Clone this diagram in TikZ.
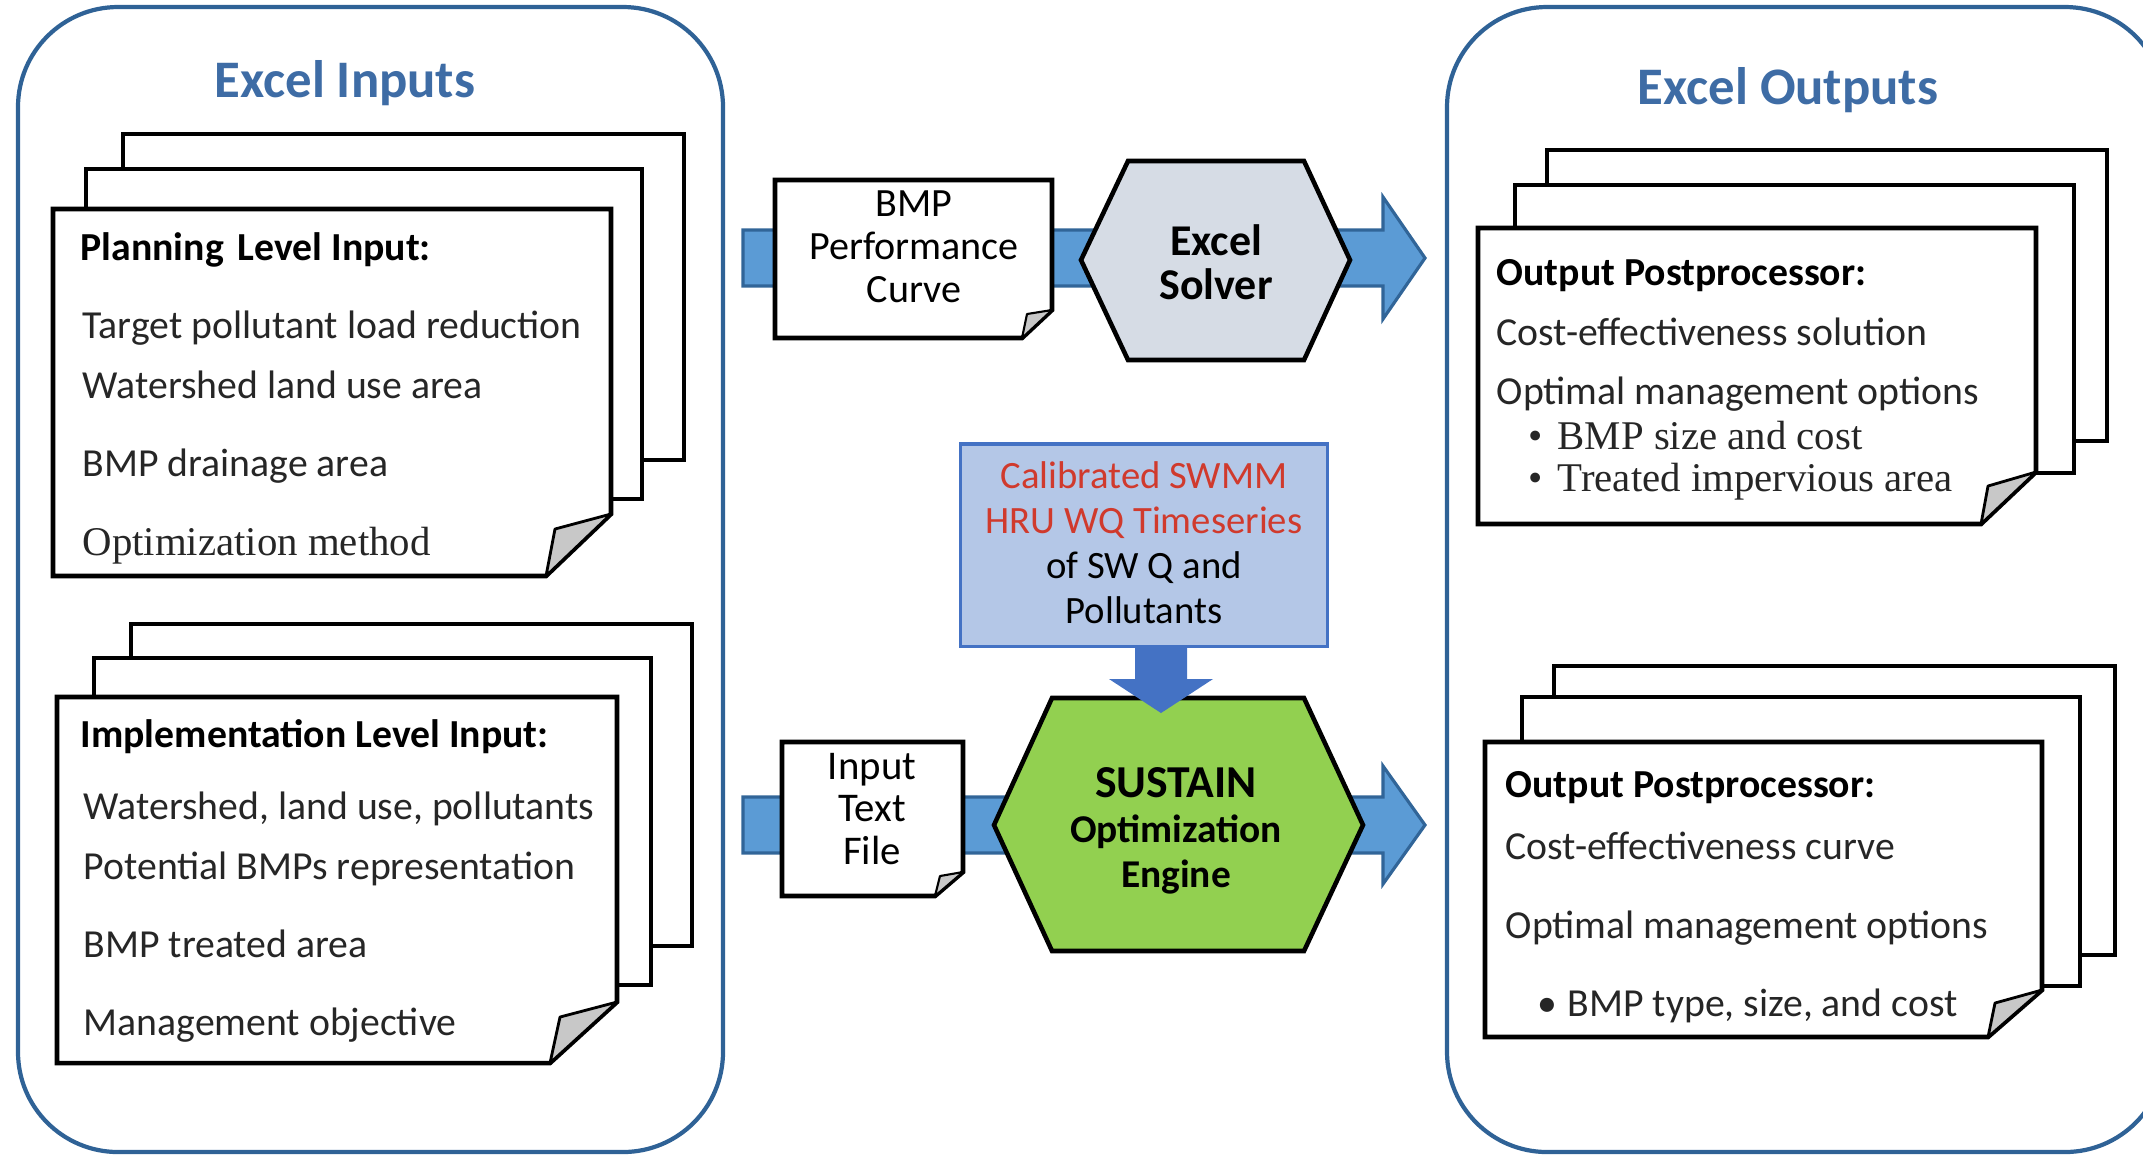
\documentclass[tikz,border=0pt]{standalone}
\usepackage{fontspec}
\setmainfont{Carlito}
\newfontfamily\timesfont{Liberation Serif}

\definecolor{frameblue}{RGB}{47,98,150}
\definecolor{titleblue}{RGB}{62,108,165}
\definecolor{bandblue}{RGB}{91,155,213}
\definecolor{bandline}{RGB}{49,101,152}
\definecolor{feedblue}{RGB}{68,114,196}
\definecolor{calibfill}{RGB}{180,199,231}
\definecolor{solverfill}{RGB}{214,220,229}
\definecolor{sustainfill}{RGB}{146,208,80}
\definecolor{calibred}{RGB}{208,58,45}
\definecolor{foldgray}{RGB}{200,200,200}

\begin{document}
\begin{tikzpicture}[x=0.01cm,y=-0.01cm,
    frame/.style={draw=frameblue,line width=1.2pt,rounded corners=1cm},
    sheet/.style={draw=black,line width=1.3pt,fill=white},
    fold/.style={draw=black,line width=0.8pt,fill=foldgray,line join=round},
    band/.style={draw=bandline,line width=0.9pt,fill=bandblue},
    hexa/.style={draw=black,line width=1.3pt},
    title/.style={text=titleblue,font=\fontsize{15}{18}\selectfont\bfseries},
    txt/.style={anchor=west,inner sep=0pt,text height=1.6ex,text depth=0.45ex,
        text=black!85,font=\fontsize{11.3}{13}\selectfont},
    head/.style={txt,text=black,font=\fontsize{11.3}{13}\selectfont\bfseries},
    serif/.style={txt,font=\fontsize{11.6}{14}\selectfont\timesfont},
    label/.style={align=center,inner sep=0pt,font=\fontsize{11.4}{12.3}\selectfont}]

    \useasboundingbox (0,0) rectangle (2143,1156);
    \clip (0,0) rectangle (2143,1156);

    % containers
    \draw[frame] (18,7) rectangle (723,1152);
    \draw[frame] (1447,7) rectangle (2165,1152);
    \node[title] (intitle) at (345,83) {Excel Inputs};
    \node[title] (outtitle) at (1788,90) {Excel Outputs};

    % planning level sheets
    \draw[sheet] (123,134) rectangle (684,460);
    \draw[sheet] (86,169) rectangle (642,499);
    \draw[sheet] (53,209) -- (611,209) -- (611,514) -- (546,576) -- (53,576) -- cycle;
    \draw[fold] (611,514) -- (555,529) -- (546,576) -- cycle;
    \node[head] (planhead) at (80,251) {Planning\hspace{0.35em}Level Input:};
    \node[txt] (plana) at (82,329) {Target pollutant load reduction};
    \node[txt] (planb) at (82,389) {Watershed land use area};
    \node[txt] (planc) at (82,467) {BMP drainage area};
    \node[serif] (pland) at (82,546) {Optimization method};

    % implementation level sheets
    \draw[sheet] (131,624) rectangle (692,946);
    \draw[sheet] (94,658) rectangle (651,985);
    \draw[sheet] (57,697) -- (617,697) -- (617,1002) -- (550,1063) -- (57,1063) -- cycle;
    \draw[fold] (617,1002) -- (560,1017) -- (550,1063) -- cycle;
    \node[head] (implhead) at (80,738) {Implementation Level Input:};
    \node[txt] (impla) at (83,810) {Watershed, land use, pollutants};
    \node[txt] (implb) at (83,870) {Potential BMPs representation};
    \node[txt] (implc) at (83,948) {BMP treated area};
    \node[txt] (impld) at (83,1026) {Management objective};

    % blue bands
    \coordinate (bandtop) at (743,258);
    \coordinate (bandlow) at (743,825);
    \draw[band] (bandtop) ++(0,-28) -- ++(640,0) -- ++(0,-33) -- (1425,258)
        -- (1383,319) -- ++(0,-33) -- (743,286) -- cycle;
    \draw[band] (bandlow) ++(0,-28) -- ++(640,0) -- ++(0,-31) -- (1425,825)
        -- (1383,884) -- ++(0,-31) -- (743,853) -- cycle;

    % bmp performance curve
    \draw[sheet] (775,180) -- (1052,180) -- (1052,310) -- (1022,338) -- (775,338) -- cycle;
    \draw[fold,line width=0.6pt] (1052,310) -- (1027,314) -- (1022,338) -- cycle;
    \node[label] (bmpcurve) at (914,247) {BMP\\Performance\\Curve};

    % excel solver
    \draw[hexa,fill=solverfill] (1128,161) -- (1304,161) -- (1350,260) -- (1304,360)
        -- (1128,360) -- (1081,260) -- cycle;
    \node[label,font=\fontsize{12.5}{12.6}\selectfont\bfseries] (solver) at (1216,262) {Excel\\Solver};

    % calibrated timeseries
    \node[draw=feedblue,line width=0.9pt,fill=calibfill,minimum width=3.66cm,
        minimum height=2.02cm] (calibbox) at (1144,545) {};
    \node[label,font=\fontsize{11}{12.8}\selectfont] (calib) at (1144,543)
        {\textcolor{calibred}{Calibrated SWMM}\\\textcolor{calibred}{HRU WQ Timeseries}\\of SW Q and\\Pollutants};

    % input text file
    \draw[sheet] (782,742) -- (963,742) -- (963,872) -- (935,896) -- (782,896) -- cycle;
    \draw[fold,line width=0.6pt] (963,872) -- (940,876) -- (935,896) -- cycle;
    \node[label,font=\fontsize{11.6}{12.2}\selectfont] (inputfile) at (872,809) {Input\\Text\\File};

    % sustain engine
    \draw[hexa,fill=sustainfill] (1052,698) -- (1304,698) -- (1363,825) -- (1304,951)
        -- (1052,951) -- (994,825) -- cycle;
    \node[label,font=\fontsize{11.2}{12.8}\selectfont\bfseries] (sustain) at (1176,831)
        {{\fontsize{13}{13}\selectfont SUSTAIN}\\Optimization\\Engine};

    % feed arrow
    \coordinate (feed) at (1161,645);
    \fill[feedblue] (feed) ++(-26,0) -- ++(0,34) -- ++(-26,0) -- (1161,713)
        -- (1213,679) -- ++(-26,0) -- ++(0,-34) -- cycle;

    % output sheets, top
    \draw[sheet] (1547,150) rectangle (2107,441);
    \draw[sheet] (1515,185) rectangle (2074,473);
    \draw[sheet] (1478,228) -- (2036,228) -- (2036,472) -- (1981,524) -- (1478,524) -- cycle;
    \draw[fold] (2036,472) -- (1988,486) -- (1981,524) -- cycle;
    \node[head] (outahead) at (1496,276) {Output Postprocessor:};
    \node[txt] (outaa) at (1496,336) {Cost-effectiveness solution};
    \node[txt] (outab) at (1496,395) {Optimal management options};
    \node[serif] (outac) at (1528,440) {\makebox[0.29cm][l]{\textbullet}BMP size and cost};
    \node[serif] (outad) at (1528,482) {\makebox[0.29cm][l]{\textbullet}Treated impervious area};

    % output sheets, bottom
    \draw[sheet] (1554,666) rectangle (2115,955);
    \draw[sheet] (1522,697) rectangle (2080,986);
    \draw[sheet] (1485,742) -- (2042,742) -- (2042,990) -- (1988,1037) -- (1485,1037) -- cycle;
    \draw[fold] (2042,990) -- (1995,1003) -- (1988,1037) -- cycle;
    \node[head] (outbhead) at (1505,788) {Output Postprocessor:};
    \node[txt] (outba) at (1505,850) {Cost-effectiveness curve};
    \node[txt] (outbb) at (1505,929) {Optimal management options};
    \node[txt] (outbc) at (1537,1007) {\makebox[0.3cm][l]{\textbullet}BMP type, size, and cost};
\end{tikzpicture}
\end{document}
